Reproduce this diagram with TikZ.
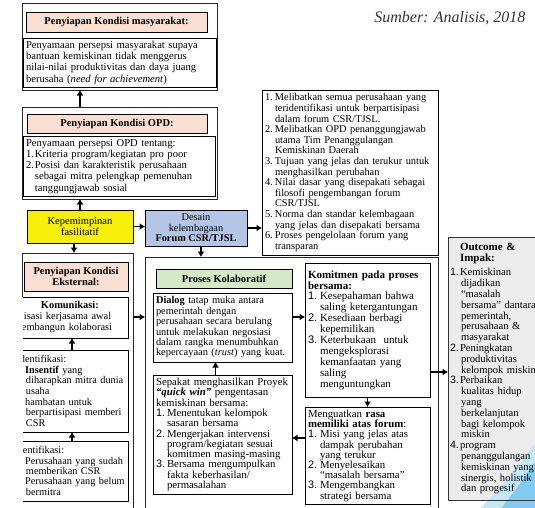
\documentclass[tikz,border=0pt]{standalone}
\usepackage{fontspec}
\setmainfont{Liberation Serif}
\setsansfont{Liberation Sans}
\usetikzlibrary{arrows.meta}
\definecolor{peach}{HTML}{F8DFD2}
\definecolor{ylw}{HTML}{F7EE0A}
\definecolor{lblue}{HTML}{B4C5E6}
\definecolor{lgreen}{HTML}{D5E8C6}
\definecolor{lgray}{HTML}{ECECEC}
\definecolor{sky}{HTML}{7FCCF0}
\newcommand\fs[2]{\fontsize{#1}{#2}\selectfont}
\newcommand\nb[2]{\makebox[#1][l]{#2}}
\newcommand\nbs[2]{\makebox[#1][l]{\sffamily #2}}
\begin{document}
\begin{tikzpicture}[x=1pt,y=-1pt,
  bx/.style={draw=black, line width=0.6pt, rectangle, inner sep=3pt, outer sep=0pt, anchor=north west, align=left},
  hdr/.style={draw=black, line width=0.6pt, rectangle, inner sep=1pt, outer sep=0pt, anchor=north west, align=center, font=\bfseries\fs{10.5}{11}},
  outerbox/.style={draw=black!85, line width=0.6pt, rectangle, inner sep=0pt, outer sep=0pt, anchor=north west},
  arr/.style={-{Latex[length=5.5pt,width=7pt]}, line width=1.5pt},
]
\fill[white] (0,0) rectangle (535,507);
\useasboundingbox (0,0) rectangle (535,507);

\node[anchor=base east, font=\itshape\fs{16}{18}, text=black!80] (src) at (529,22) {Sumber: Analisis, 2018};

% masyarakat
\node[outerbox, minimum width=195pt, minimum height=87pt] (mOut) at (22,3) {};
\node[hdr, fill=peach, minimum width=181pt, minimum height=20pt] (mHead) at (26,12) {Penyiapan Kondisi masyarakat:};
\node[bx, fill=white, text width=187pt, minimum height=49pt, font=\fs{10.6}{11.3}] (mText) at (23,38) {Penyamaan persepsi masyarakat supaya\\bantuan kemiskinan tidak menggerus\\nilai-nilai produktivitas dan daya juang\\berusaha (\textit{need for achievement})};

% OPD
\node[outerbox, minimum width=195pt, minimum height=92pt] (oOut) at (22,107) {};
\node[hdr, fill=peach, minimum width=180pt, minimum height=19pt] (oHead) at (27,114) {Penyiapan Kondisi OPD:};
\node[bx, fill=white, text width=186pt, minimum height=59pt, font=\fs{10.6}{11.3}] (oText) at (23,136) {Penyamaan persepsi OPD tentang:\\\nb{9pt}{1.}Kriteria program/kegiatan pro poor\\\nb{9pt}{2.}Posisi dan karakteristik perusahaan\\\hspace*{9pt}sebagai mitra pelengkap pemenuhan\\\hspace*{9pt}tanggungjawab sosial};
\draw[arr] ([xshift=-39.5pt]oOut.north) -- ([xshift=-39.5pt]mOut.south);

% leadership & design
\node[bx, fill=ylw, align=center, minimum width=106pt, minimum height=33pt, font=\fs{10.5}{11}] (lead) at (27,210) {Kepemimpinan\\fasilitatif};
\node[bx, fill=lblue, align=center, minimum width=102pt, minimum height=36pt, font=\fs{10.3}{10.5}] (des) at (145,210) {Desain\\kelembagaan\\\textbf{Forum CSR/TJSL}};
\draw[arr] (lead.north) -- (lead.north |- oOut.south);
\draw[arr] (lead.east) -- (lead.east -| des.west);

% list
\node[bx, fill=white, text width=170pt, minimum height=165pt, font=\fs{10.4}{10.6}] (list) at (262,90) {%
\nb{10pt}{1.}Melibatkan semua perusahaan yang\\
\hspace*{10pt}teridentifikasi untuk berpartisipasi\\
\hspace*{10pt}dalam forum CSR/TJSL.\\
\nb{10pt}{2.}Melibatkan OPD penanggungjawab\\
\hspace*{10pt}utama Tim Penanggulangan\\
\hspace*{10pt}Kemiskinan Daerah\\
\nb{10pt}{3.}Tujuan yang jelas dan terukur untuk\\
\hspace*{10pt}menghasilkan perubahan\\
\nb{10pt}{4.}Nilai dasar yang disepakati sebagai\\
\hspace*{10pt}filosofi pengembangan forum\\
\hspace*{10pt}CSR/TJSL\\
\nb{10pt}{5.}Norma dan standar kelembagaan\\
\hspace*{10pt}yang jelas dan disepakati bersama\\
\nb{10pt}{6.}Proses pengelolaan forum yang\\
\hspace*{10pt}transparan};
\draw[arr] (des.east) -- (des.east -| list.west);

% external
\node[outerbox, minimum width=111pt, minimum height=270pt] (eOut) at (22,253) {};
\node[hdr, fill=peach, minimum width=104pt, minimum height=29pt] (eHead) at (24,262) {Penyiapan Kondisi\\Eksternal:};
\node[bx, fill=white, text width=127pt, minimum height=41pt, font=\fs{10.4}{11}] (kom) at (-5,297) {\hspace*{43pt}\textbf{Komunikasi:}\\\hspace*{26pt}isasi kerjasama awal\\\hspace*{24pt}embangun kolaborasi};
\node[bx, fill=white, text width=127pt, minimum height=82pt, font=\fs{10.3}{10.6}] (idf1) at (-5,350) {\hspace*{22pt}dentifikasi:\\\hspace*{22pt})\,\textbf{Insentif} yang\\\hspace*{28pt}diharapkan mitra dunia\\\hspace*{28pt}usaha\\\hspace*{22pt})\,hambatan untuk\\\hspace*{28pt}berpartisipasi memberi\\\hspace*{28pt}CSR};
\node[bx, fill=white, text width=127pt, minimum height=60pt, font=\fs{10.3}{10.4}] (idf2) at (-5,441) {\hspace*{25pt}entifikasi:\\\hspace*{22pt})\,Perusahaan yang sudah\\\hspace*{28pt}memberikan CSR\\\hspace*{22pt})\,Perusahaan yang belum\\\hspace*{28pt}bermitra};
\fill[white] (-1,296.5) rectangle (22.6,510);
\draw[arr] ([xshift=10.5pt]idf1.north) -- ([xshift=10.5pt]kom.south);
\draw[arr] ([xshift=10.5pt]idf2.north) -- ([xshift=10.5pt]idf1.south);
\draw[arr] ([xshift=-6pt]lead.south) -- ([xshift=-6pt]lead.south |- eOut.north);

% collaborative process
\node[outerbox, minimum width=293pt, minimum height=270pt] (kOut) at (145,257) {};
\draw[arr] ([xshift=5pt]des.south) -- ([xshift=5pt]des.south |- kOut.north);
\node[hdr, fill=lgreen, minimum width=136pt, minimum height=19pt] (kHead) at (156,269) {Proses Kolaboratif};
\node[bx, fill=white, text width=133pt, minimum height=69pt, font=\fs{10.4}{10.4}] (dlg) at (153,293) {\textbf{Dialog} tatap muka antara\\pemerintah dengan\\perusahaan secara berulang\\untuk melakukan negosiasi\\dalam rangka menumbuhkan\\kepercayaan (\textit{trust}) yang kuat.};
\node[bx, fill=white, text width=133pt, minimum height=117pt, font=\fs{10.8}{10.3}] (spk) at (153,375) {%
Sepakat menghasilkan Proyek\\
\textbf{\textit{“quick win”}} pengentasan\\
kemiskinan bersama:\\
\nbs{11pt}{1.}Menentukan kelompok\\
\hspace*{11pt}sasaran bersama\\
\nbs{11pt}{2.}Mengerjakan intervensi\\
\hspace*{11pt}program/kegiatan sesuai\\
\hspace*{11pt}komitmen masing-masing\\
\nbs{11pt}{3.}Bersama mengumpulkan\\
\hspace*{11pt}fakta keberhasilan/\\
\hspace*{11pt}permasalahan};
\node[bx, fill=white, text width=119pt, minimum height=134pt, font=\fs{11}{10.9}] (kmt) at (305,263) {%
\textbf{Komitmen pada proses}\\
\textbf{bersama:}\\
\nbs{12pt}{1.}Kesepahaman bahwa\\
\hspace*{12pt}saling ketergantungan\\
\nbs{12pt}{2.}Kesediaan berbagi\\
\hspace*{12pt}kepemilikan\\
\nbs{12pt}{3.}Keterbukaan\ \ untuk\\
\hspace*{12pt}mengeksplorasi\\
\hspace*{12pt}kemanfaatan yang\\
\hspace*{12pt}saling\\
\hspace*{12pt}menguntungkan};
\node[bx, fill=white, text width=119pt, minimum height=96pt, font=\fs{10.8}{10.2}] (kuat) at (305,407) {%
Menguatkan \textbf{rasa}\\
\textbf{memiliki atas forum}:\\
\nbs{12pt}{1.}Misi yang jelas atas\\
\hspace*{12pt}dampak perubahan\\
\hspace*{12pt}yang terukur\\
\nbs{12pt}{2.}Menyelesaikan\\
\hspace*{12pt}“masalah bersama”\\
\nbs{12pt}{3.}Mengembangkan\\
\hspace*{12pt}strategi bersama};

% outcome: background, page decoration, then the box with its text
\fill[lgray] (448,237) rectangle (554,500);
\fill[sky!45!white] (476,512) .. controls (498,492) and (518,466) .. (540,436) -- (540,512) -- cycle;
\fill[sky] (498,512) .. controls (511,496) and (525,478) .. (540,454) -- (540,512) -- cycle;
\node[bx, draw=black!80, text width=102pt, minimum height=263pt, inner sep=2pt, font=\fs{10.6}{10.8}] (out) at (448,237) {%
\hspace*{10pt}{\fs{11}{10.8}\textbf{Outcome \&}}\\
\hspace*{10pt}{\fs{11}{10.8}\textbf{Impak:}}\\[4pt]
\nbs{10pt}{1.}Kemiskinan\\
\hspace*{11pt}dijadikan\\
\hspace*{11pt}“masalah\\
\hspace*{11pt}bersama” dantara\\
\hspace*{11pt}pemerintah,\\
\hspace*{11pt}perusahaan \&\\
\hspace*{11pt}masyarakat\\
\nbs{10pt}{2.}Peningkatan\\
\hspace*{11pt}produktivitas\\
\hspace*{11pt}kelompok miskin\\
\nbs{10pt}{3.}Perbaikan\\
\hspace*{11pt}kualitas hidup\\
\hspace*{11pt}yang\\
\hspace*{11pt}berkelanjutan\\
\hspace*{11pt}bagi kelompok\\
\hspace*{11pt}miskin\\
\nbs{10pt}{4.}program\\
\hspace*{11pt}penanggulangan\\
\hspace*{11pt}kemiskinan yang\\
\hspace*{11pt}sinergis, holistik\\
\hspace*{11pt}dan progesif};

% connectors in the lower part
\coordinate (r1) at (0,317);
\coordinate (r2) at (0,438);
\coordinate (r3) at (0,372);
\draw[arr] (eOut.east |- r1) -- (kOut.west |- r1);
\draw[arr] (dlg.east |- r1) -- (kmt.west |- r1);
\draw[arr] ([xshift=-7pt]spk.north) -- ([xshift=-7pt]dlg.south);
\draw[arr] (kmt.south) -- (kuat.north);
\draw[arr] (kuat.west |- r2) -- (spk.east |- r2);
\draw[arr] (kmt.east |- r3) -- (out.west |- r3);
\end{tikzpicture}
\end{document}
